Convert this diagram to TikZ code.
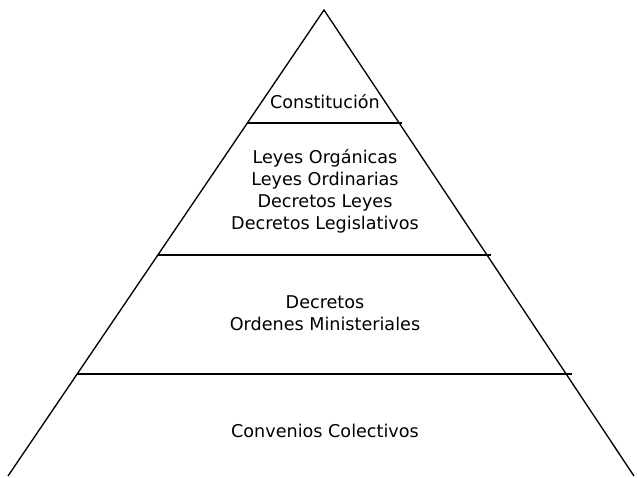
\documentclass[tikz,border=0pt]{standalone}
\usepackage{fontspec}
\setmainfont{DejaVu Sans}
\begin{document}
\begin{tikzpicture}[x=0.75pt,y=-0.75pt,
  edge/.style={line width=1pt,black},
  tier/.style={line width=1.4pt,black},
  lbl/.style={align=center,font=\fontsize{13.2}{16.5}\selectfont,inner sep=0pt}]
\useasboundingbox (0,0) rectangle (637,478);
\coordinate (apex) at (324,10);
\coordinate (bl) at (8,476);
\coordinate (br) at (634,476);
\draw[edge] (bl) -- (apex) -- (br);
\coordinate (l1) at (247.3,123); \coordinate (r1) at (401.6,123);
\coordinate (l2) at (157.8,255); \coordinate (r2) at (491.2,255);
\coordinate (l3) at (77.1,374); \coordinate (r3) at (571.9,374);
\draw[tier] (l1) -- (r1);
\draw[tier] (l2) -- (r2);
\draw[tier] (l3) -- (r3);
\node[lbl] (t1) at (325,102) {Constitución};
\node[lbl] (t2) at (325,191) {Leyes Orgánicas\\Leyes Ordinarias\\Decretos Leyes\\Decretos Legislativos};
\node[lbl] (t3) at (325,313) {Decretos\\Ordenes Ministeriales};
\node[lbl] (t4) at (325,431) {Convenios Colectivos};
\end{tikzpicture}
\end{document}
